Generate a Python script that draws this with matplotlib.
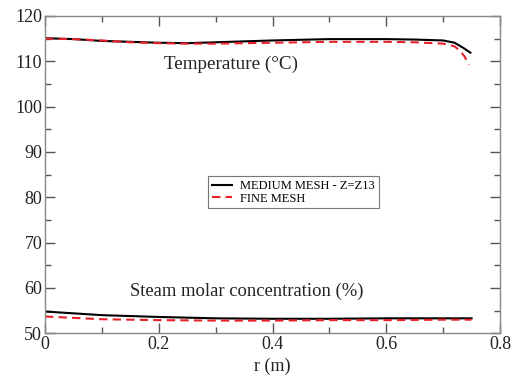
import matplotlib
matplotlib.use("Agg")
import matplotlib.pyplot as plt
from matplotlib.ticker import MultipleLocator

# Temperature data
r_temp_med = [0, 0.05, 0.1, 0.15, 0.2, 0.25, 0.3, 0.4, 0.5, 0.6, 0.65, 0.7, 0.72, 0.735, 0.748]
T_med = [115.1, 114.9, 114.5, 114.3, 114.1, 114.0, 114.2, 114.6, 114.9, 114.9, 114.8, 114.6, 114.1, 113.0, 111.9]
r_temp_fine = [0, 0.05, 0.1, 0.15, 0.2, 0.25, 0.3, 0.4, 0.5, 0.6, 0.65, 0.7, 0.72, 0.73, 0.738, 0.745]
T_fine = [115.0, 114.9, 114.6, 114.2, 114.0, 113.9, 113.9, 114.1, 114.3, 114.3, 114.2, 113.9, 113.3, 112.3, 111.0, 109.2]

# Steam molar concentration data
r_steam = [0, 0.05, 0.1, 0.2, 0.3, 0.4, 0.5, 0.6, 0.7, 0.75]
S_med = [54.8, 54.4, 54.0, 53.6, 53.3, 53.2, 53.2, 53.3, 53.3, 53.3]
S_fine = [53.7, 53.4, 53.1, 52.9, 52.8, 52.8, 52.9, 52.9, 53.0, 53.0]

labels = ["MEDIUM MESH - Z=Z13", "FINE MESH"]

plt.rcParams['font.family'] = ['Liberation Serif', 'DejaVu Serif']

fig = plt.figure(figsize=(5.19, 3.78), dpi=100)
ax = fig.add_axes([0.0867, 0.1183, 0.8767, 0.8394])

ax.plot(r_temp_med, T_med, color='black', lw=1.5, label=labels[0])
ax.plot(r_temp_fine, T_fine, color='#e8202a', lw=1.5, ls=(0, (4, 2.5)), label=labels[1])
ax.plot(r_steam, S_med, color='black', lw=1.5)
ax.plot(r_steam, S_fine, color='#e8202a', lw=1.5, ls=(0, (4, 2.5)))

ax.set_xlim(0, 0.8)
ax.set_ylim(50, 120)
ax.xaxis.set_major_locator(MultipleLocator(0.2))
ax.xaxis.set_minor_locator(MultipleLocator(0.1))
ax.yaxis.set_major_locator(MultipleLocator(10))
ax.yaxis.set_minor_locator(MultipleLocator(5))
ax.xaxis.set_major_formatter(matplotlib.ticker.FuncFormatter(lambda v, p: f"{v:g}"))

for s in ax.spines.values():
    s.set_color('#888888')
    s.set_linewidth(1.0)
ax.tick_params(which='both', direction='in', top=True, right=True, colors='#555555', labelcolor='#222222')
ax.tick_params(which='major', length=7, width=1.0, labelsize=13, pad=2)
ax.tick_params(which='minor', length=4, width=1.0)

ax.set_xlabel("r (m)", fontsize=13, labelpad=3, color='#222222')

ax.text(0.327, 109.3, "Temperature (°C)", fontsize=13.8, ha='center', va='center', color='#222222')
ax.text(0.355, 59.3, "Steam molar concentration (%)", fontsize=13.4, ha='center', va='center', color='#222222')

leg = ax.legend(loc='center', bbox_to_anchor=(0.546, 0.444), fontsize=9, frameon=True,
                fancybox=False, edgecolor='#555555', handlelength=1.6, borderpad=0.3,
                labelspacing=0.05, handletextpad=0.7)
leg.get_frame().set_linewidth(0.8)

fig.savefig("out.png", dpi=100)
